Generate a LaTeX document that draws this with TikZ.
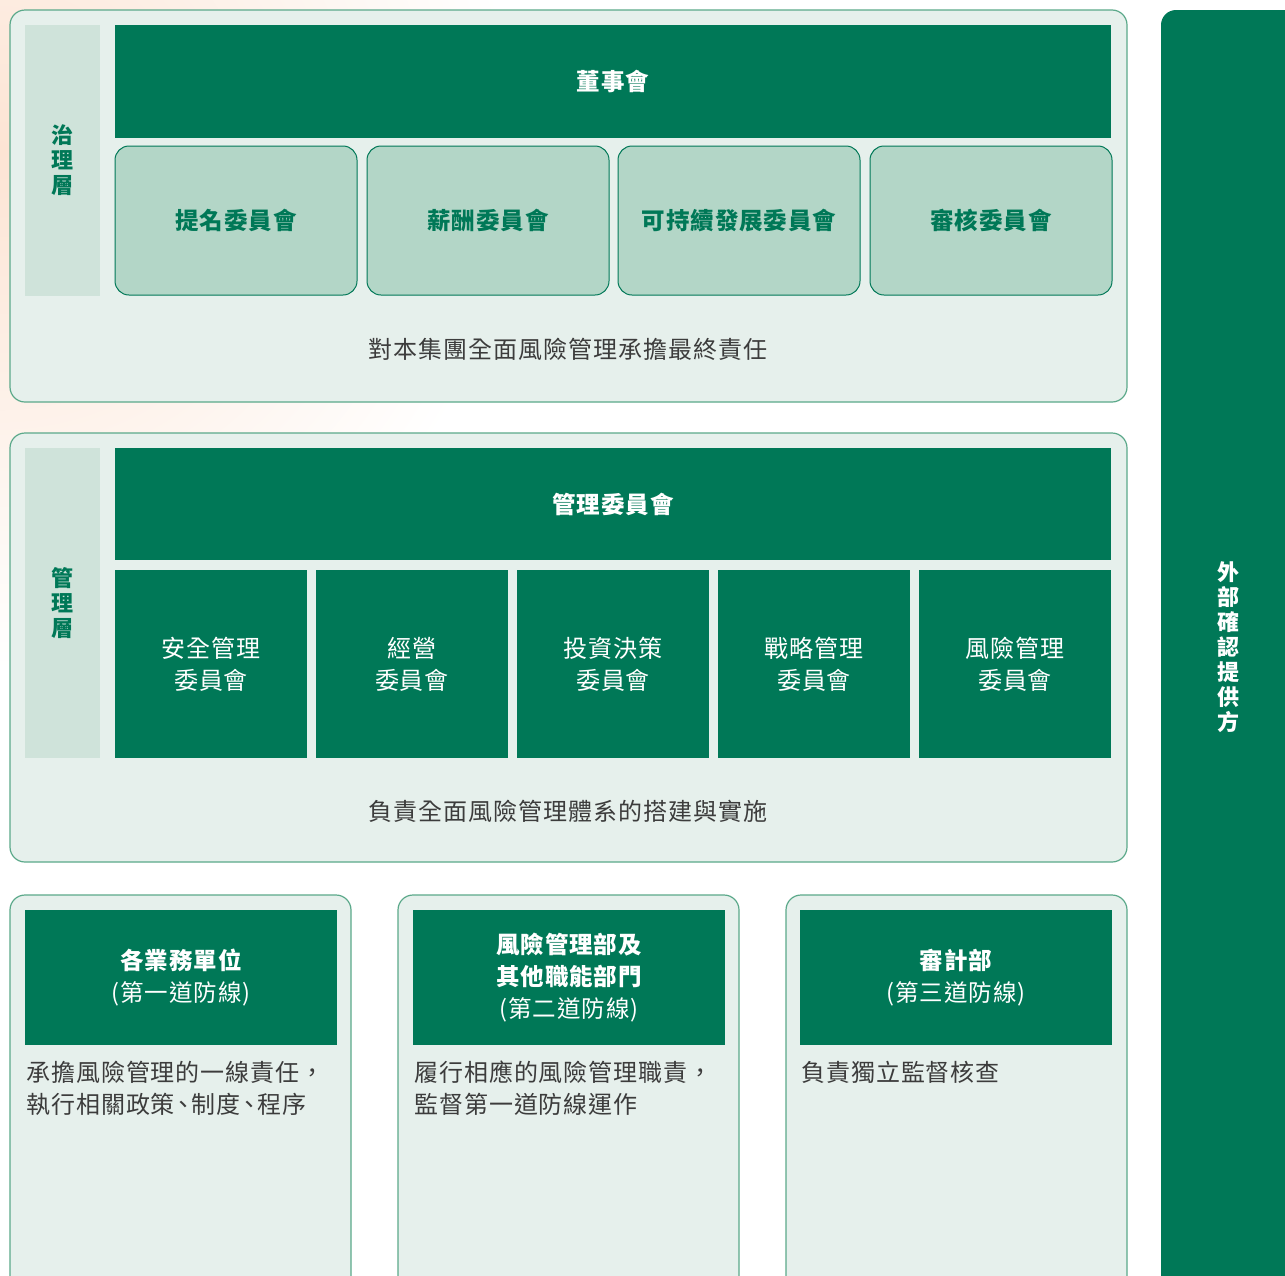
\documentclass[tikz,border=0pt]{standalone}
\usepackage{fontspec}
\setmainfont{Noto Sans CJK TC}[LetterSpace=4]
\definecolor{dkgreen}{HTML}{007857}
\definecolor{panelfill}{HTML}{E6F0EC}
\definecolor{labelfill}{HTML}{CFE3DA}
\definecolor{commfill}{HTML}{B3D6C7}
\definecolor{bordergreen}{HTML}{5BA98A}
\definecolor{txtgrey}{HTML}{3C3C3C}
\definecolor{peach}{HTML}{FCE4D4}
\newcommand{\halfcomma}{\makebox[0.7em][c]{、}}
\tikzset{
  panel/.style={draw=bordergreen, line width=1.2pt, fill=panelfill, rounded corners=15pt, inner sep=0pt},
  labelcol/.style={fill=labelfill, inner sep=0pt, text=dkgreen, align=center, font=\fontsize{22}{25}\selectfont\bfseries},
  bar/.style={fill=dkgreen, inner sep=0pt, text=white, align=center, font=\fontsize{23.5}{32}\selectfont\bfseries},
  comm/.style={draw=dkgreen, line width=1pt, fill=commfill, rounded corners=14pt, inner sep=0pt, text=dkgreen, font=\fontsize{23.5}{32}\selectfont\bfseries},
  subbox/.style={fill=dkgreen, inner sep=0pt, text=white, align=center, font=\fontsize{24}{32}\selectfont},
  caption/.style={text=txtgrey, inner sep=0pt, font=\fontsize{24}{32}\selectfont},
  desc/.style={text=txtgrey, inner sep=0pt, align=left, anchor=west, font=\fontsize{24}{32}\selectfont},
}
\begin{document}
\begin{tikzpicture}[x=1pt,y=-1pt]
\useasboundingbox (0,0) rectangle (1285,1275);
\begin{scope}
\clip (0,0) rectangle (1285,1275);
\fill[white] (0,0) rectangle (1285,1275);
\shade[inner color=peach, outer color=white] (0,150) circle (520);
% ---- panel 1
\node[panel, minimum width=1117pt, minimum height=392pt] (p1) at (568.5,206) {};
\node[labelcol, minimum width=75pt, minimum height=271pt] (l1) at (62.5,160.5) {治\\理\\層};
\node[bar, minimum width=996pt, minimum height=113pt] (board) at (613,81.5) {董事會};
\node[comm, minimum width=242pt, minimum height=149pt] (c1) at (236,220.5) {提名委員會};
\node[comm, minimum width=242pt, minimum height=149pt] (c2) at (488,220.5) {薪酬委員會};
\node[comm, minimum width=242pt, minimum height=149pt] (c3) at (739,220.5) {可持續發展委員會};
\node[comm, minimum width=242pt, minimum height=149pt] (c4) at (991,220.5) {審核委員會};
\node[caption] (cap1) at (568,349) {對本集團全面風險管理承擔最終責任};
% ---- panel 2
\node[panel, minimum width=1117pt, minimum height=429pt] (p2) at (568.5,647.5) {};
\node[labelcol, minimum width=75pt, minimum height=310pt] (l2) at (62.5,603) {管\\理\\層};
\node[bar, minimum width=996pt, minimum height=112pt] (mgmt) at (613,504) {管理委員會};
\node[subbox, minimum width=192pt, minimum height=188pt] (s1) at (211,664) {安全管理\\委員會};
\node[subbox, minimum width=192pt, minimum height=188pt] (s2) at (412,664) {經營\\委員會};
\node[subbox, minimum width=192pt, minimum height=188pt] (s3) at (613,664) {投資決策\\委員會};
\node[subbox, minimum width=192pt, minimum height=188pt] (s4) at (814,664) {戰略管理\\委員會};
\node[subbox, minimum width=192pt, minimum height=188pt] (s5) at (1015,664) {風險管理\\委員會};
\node[caption] (cap2) at (568,811) {負責全面風險管理體系的搭建與實施};
% ---- bottom panels
\node[panel, minimum width=341pt, minimum height=400pt] (b1) at (180.5,1095) {};
\node[panel, minimum width=341pt, minimum height=400pt] (b2) at (568.5,1095) {};
\node[panel, minimum width=341pt, minimum height=400pt] (b3) at (956.5,1095) {};
\node[bar, minimum width=312pt, minimum height=135pt] (h1) at (181,977.5) {各業務單位\\{\mdseries (第一道防線)}};
\node[bar, minimum width=312pt, minimum height=135pt] (h2) at (569,977.5) {風險管理部及\\其他職能部門\\{\mdseries (第二道防線)}};
\node[bar, minimum width=312pt, minimum height=135pt] (h3) at (956,977.5) {審計部\\{\mdseries (第三道防線)}};
\node[desc] (d1) at (26,1088) {承擔風險管理的一線責任，\\執行相關政策\halfcomma 制度\halfcomma 程序};
\node[desc] (d2) at (414,1088) {履行相應的風險管理職責，\\監督第一道防線運作};
\node[desc] (d3) at (801,1072) {負責獨立監督核查};
% ---- right bar
\node[fill=dkgreen, rounded corners=15pt, inner sep=0pt, minimum width=140pt, minimum height=1280pt] (ext) at (1231,650) {};
\node[text=white, align=center, inner sep=0pt, font=\fontsize{22}{25}\selectfont\bfseries] (extt) at (1228,647) {外\\部\\確\\認\\提\\供\\方};
\end{scope}
\end{tikzpicture}
\end{document}
